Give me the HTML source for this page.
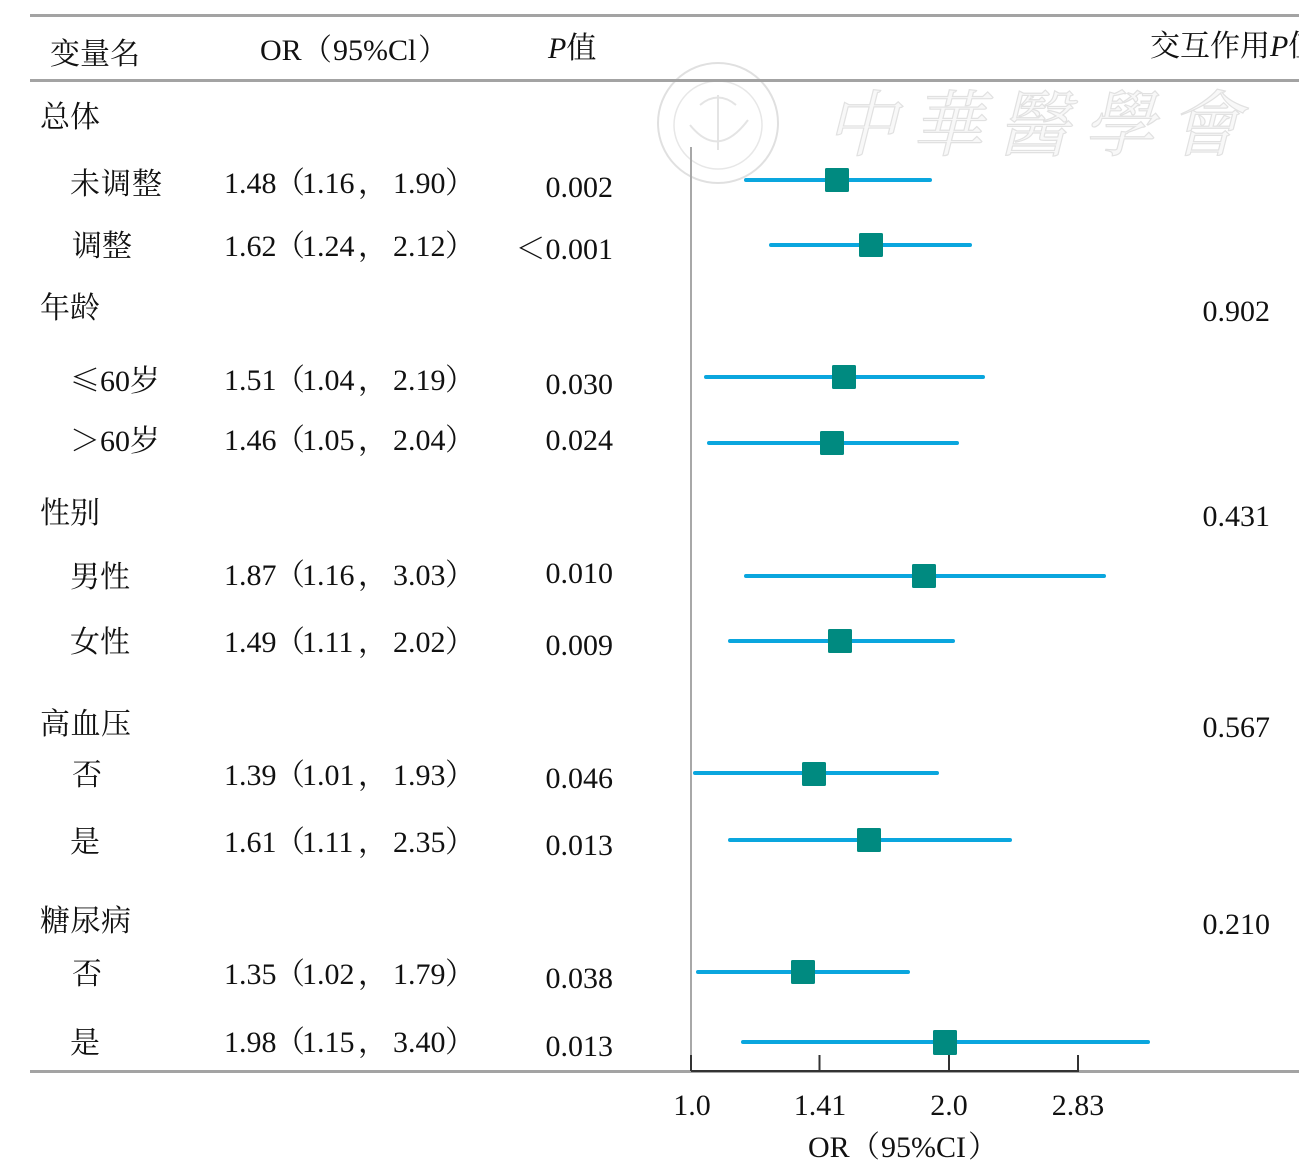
<!DOCTYPE html>
<html><head><meta charset="utf-8"><style>
html,body{margin:0;padding:0;background:#fff;}
svg{display:block;}
text{font-family:"Liberation Serif","Noto Serif CJK SC",serif;font-size:30px;fill:#111;}
.cj{font-family:"Noto Serif CJK SC","Liberation Serif",serif;}
</style></head><body>
<svg width="1299" height="1172" viewBox="0 0 1299 1172" xmlns="http://www.w3.org/2000/svg">
<!-- watermark -->
<g opacity="0.55">
<circle cx="718" cy="123" r="60" fill="none" stroke="#c8c8c8" stroke-width="2"/>
<circle cx="718" cy="125" r="44" fill="none" stroke="#d4d4d4" stroke-width="1.5"/>
<path d="M690 125 Q718 160 748 120 M718 95 L718 150 M700 105 Q718 90 736 105" fill="none" stroke="#cfcfcf" stroke-width="2"/>
<text x="825" y="150" style="font-size:72px;fill:#f3f3f3;stroke:#c9c9c9;stroke-width:1.2;font-style:italic;letter-spacing:14px">中華醫學會</text>
</g>
<!-- rules -->
<rect x="30" y="14" width="1269" height="3" fill="#a3a3a3"/>
<rect x="30" y="79" width="1269" height="3" fill="#a3a3a3"/>
<rect x="30" y="1070" width="1269" height="3" fill="#a3a3a3"/>
<!-- axis -->
<rect x="690" y="147" width="2" height="925" fill="#a8a8a8"/>
<rect x="691" y="1070" width="388" height="2" fill="#333"/>
<rect x="690" y="1055" width="2" height="16" fill="#333"/>
<rect x="818.5" y="1055" width="2" height="16" fill="#333"/>
<rect x="948" y="1055" width="2" height="16" fill="#333"/>
<rect x="1077" y="1055" width="2" height="16" fill="#333"/>
<g text-anchor="middle">
<text x="692" y="1115">1.0</text>
<text x="820" y="1115">1.41</text>
<text x="949" y="1115">2.0</text>
<text x="1078" y="1115">2.83</text>
</g>
<text y="1157"><tspan x="808">OR</tspan><tspan x="850">（</tspan><tspan x="881">95%CI</tspan><tspan x="968">）</tspan></text>
<!-- header -->
<text x="50" y="64" textLength="90" lengthAdjust="spacing">变量名</text>
<text y="60"><tspan x="260">OR</tspan><tspan x="302">（</tspan><tspan x="333">95%Cl</tspan><tspan x="418">）</tspan></text>
<text x="548" y="58"><tspan font-style="italic">P</tspan>值</text>
<text x="1150" y="56">交互作用<tspan font-style="italic">P</tspan>值</text>
<!-- labels -->
<text x="40" y="127" textLength="60" lengthAdjust="spacing">总体</text>
<text x="70" y="194" textLength="92" lengthAdjust="spacing">未调整</text>
<text x="72" y="256" textLength="60" lengthAdjust="spacing">调整</text>
<text x="40" y="318" textLength="60" lengthAdjust="spacing">年龄</text>
<text x="70" y="391" textLength="90" lengthAdjust="spacing"><tspan class="cj">≤</tspan>60岁</text>
<text x="70" y="451" textLength="90" lengthAdjust="spacing"><tspan class="cj">＞</tspan>60岁</text>
<text x="40" y="523" textLength="60" lengthAdjust="spacing">性别</text>
<text x="70" y="587" textLength="60" lengthAdjust="spacing">男性</text>
<text x="70" y="652" textLength="60" lengthAdjust="spacing">女性</text>
<text x="40" y="734" textLength="91" lengthAdjust="spacing">高血压</text>
<text x="72" y="785">否</text>
<text x="70" y="852">是</text>
<text x="40" y="931" textLength="91" lengthAdjust="spacing">糖尿病</text>
<text x="72" y="984">否</text>
<text x="70" y="1053">是</text>
<!-- OR column -->
<text y="193"><tspan x="224">1.48</tspan><tspan x="275">（</tspan><tspan x="302">1.16</tspan><tspan x="358">，</tspan><tspan x="393">1.90</tspan><tspan x="445">）</tspan></text>
<text y="256"><tspan x="224">1.62</tspan><tspan x="275">（</tspan><tspan x="302">1.24</tspan><tspan x="358">，</tspan><tspan x="393">2.12</tspan><tspan x="445">）</tspan></text>
<text y="390"><tspan x="224">1.51</tspan><tspan x="275">（</tspan><tspan x="302">1.04</tspan><tspan x="358">，</tspan><tspan x="393">2.19</tspan><tspan x="445">）</tspan></text>
<text y="450"><tspan x="224">1.46</tspan><tspan x="275">（</tspan><tspan x="302">1.05</tspan><tspan x="358">，</tspan><tspan x="393">2.04</tspan><tspan x="445">）</tspan></text>
<text y="585"><tspan x="224">1.87</tspan><tspan x="275">（</tspan><tspan x="302">1.16</tspan><tspan x="358">，</tspan><tspan x="393">3.03</tspan><tspan x="445">）</tspan></text>
<text y="652"><tspan x="224">1.49</tspan><tspan x="275">（</tspan><tspan x="302">1.11</tspan><tspan x="358">，</tspan><tspan x="393">2.02</tspan><tspan x="445">）</tspan></text>
<text y="785"><tspan x="224">1.39</tspan><tspan x="275">（</tspan><tspan x="302">1.01</tspan><tspan x="358">，</tspan><tspan x="393">1.93</tspan><tspan x="445">）</tspan></text>
<text y="852"><tspan x="224">1.61</tspan><tspan x="275">（</tspan><tspan x="302">1.11</tspan><tspan x="358">，</tspan><tspan x="393">2.35</tspan><tspan x="445">）</tspan></text>
<text y="984"><tspan x="224">1.35</tspan><tspan x="275">（</tspan><tspan x="302">1.02</tspan><tspan x="358">，</tspan><tspan x="393">1.79</tspan><tspan x="445">）</tspan></text>
<text y="1052"><tspan x="224">1.98</tspan><tspan x="275">（</tspan><tspan x="302">1.15</tspan><tspan x="358">，</tspan><tspan x="393">3.40</tspan><tspan x="445">）</tspan></text>
<!-- P column -->
<g text-anchor="end">
<text x="613" y="197">0.002</text>
<text x="613" y="259"><tspan class="cj">＜</tspan>0.001</text>
<text x="613" y="394">0.030</text>
<text x="613" y="450">0.024</text>
<text x="613" y="583">0.010</text>
<text x="613" y="655">0.009</text>
<text x="613" y="788">0.046</text>
<text x="613" y="855">0.013</text>
<text x="613" y="988">0.038</text>
<text x="613" y="1056">0.013</text>
<text x="1270" y="321">0.902</text>
<text x="1270" y="526">0.431</text>
<text x="1270" y="737">0.567</text>
<text x="1270" y="934">0.210</text>
</g>
<!-- CI lines -->
<g stroke="#0aa6de" stroke-width="4" stroke-linecap="round">
<line x1="746" y1="180" x2="930" y2="180"/>
<line x1="771" y1="245" x2="970" y2="245"/>
<line x1="706" y1="377" x2="983" y2="377"/>
<line x1="709" y1="443" x2="957" y2="443"/>
<line x1="746" y1="576" x2="1104" y2="576"/>
<line x1="730" y1="641" x2="953" y2="641"/>
<line x1="695" y1="773" x2="937" y2="773"/>
<line x1="730" y1="840" x2="1010" y2="840"/>
<line x1="698" y1="972" x2="908" y2="972"/>
<line x1="743" y1="1042" x2="1148" y2="1042"/>
</g>
<!-- markers -->
<g fill="#008a80">
<rect x="825" y="168" width="24" height="24" rx="1.5"/>
<rect x="859" y="233" width="24" height="24" rx="1.5"/>
<rect x="832" y="365" width="24" height="24" rx="1.5"/>
<rect x="820" y="431" width="24" height="24" rx="1.5"/>
<rect x="912" y="564" width="24" height="24" rx="1.5"/>
<rect x="828" y="629" width="24" height="24" rx="1.5"/>
<rect x="802" y="762" width="24" height="24" rx="1.5"/>
<rect x="857" y="828" width="24" height="24" rx="1.5"/>
<rect x="791" y="960" width="24" height="24" rx="1.5"/>
<rect x="933" y="1030" width="24" height="25" rx="1.5"/>
</g>
</svg>
</body></html>
